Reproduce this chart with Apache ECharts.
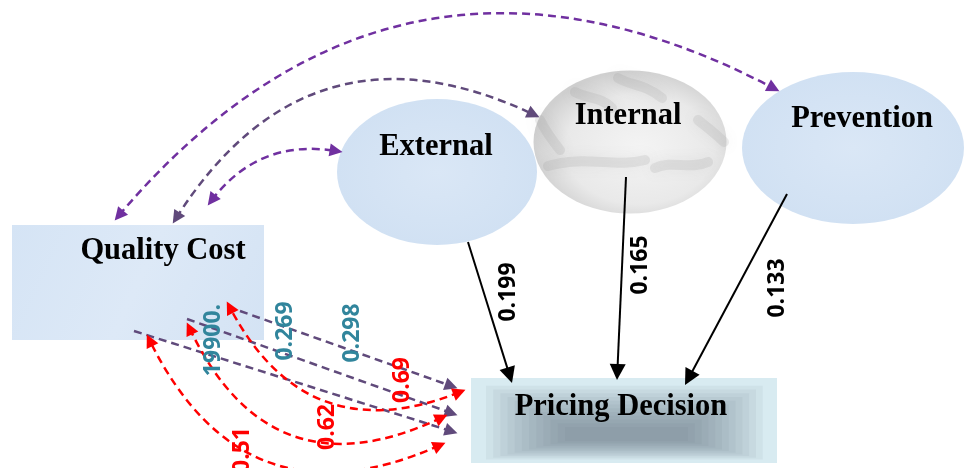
<!DOCTYPE html>
<html><head><meta charset="utf-8">
<script src="https://cdn.jsdelivr.net/npm/echarts@6/dist/echarts.min.js"></script>
<style>html,body{margin:0;padding:0;background:#fff}#c{width:969px;height:468px}</style>
</head><body><div id="c"></div>
<script>
// ---------- data ----------
const nodeNames = ['Quality Cost', 'External', 'Internal', 'Prevention', 'Pricing Decision'];
const pathSources = ['External', 'Internal', 'Prevention'];
const pathCoefficients = [0.199, 0.165, 0.133];
const costArcTargets = ['Prevention', 'Internal', 'External'];
const crossLabels = ['19900.', '0.269', '0.298'];
const correlations = [0.69, 0.62, 0.51];

// ---------- layout (canvas space 969 x 468) ----------
const nodeLayout = {
  'Quality Cost':     {kind: 'rect',    cx: 138, cy: 282.5, w: 252, h: 115, tx: 163, ty: 251, fill: 'qc'},
  'External':         {kind: 'ellipse', cx: 437, cy: 172, w: 200, h: 146, tx: 436, ty: 147, fill: 'blue'},
  'Internal':         {kind: 'ellipse', cx: 630, cy: 142, w: 193, h: 143, tx: 628, ty: 116, fill: 'marble'},
  'Prevention':       {kind: 'ellipse', cx: 853, cy: 148, w: 222, h: 152, tx: 862, ty: 119, fill: 'blue'},
  'Pricing Decision': {kind: 'rect',    cx: 624, cy: 420.5, w: 306, h: 85, tx: 621, ty: 407, fill: 'shade'}
};
const shadeCore = {x0: 565, x1: 688, y0: 427, y1: 441};
const marbleVeins = [
  [[548, 166], [585, 155], [615, 168], [645, 160]],
  [[618, 78], [632, 86], [645, 84], [662, 98]],
  [[698, 120], [708, 128], [716, 134], [724, 142]],
  [[540, 120], [546, 132], [552, 140], [560, 150]],
  [[655, 168], [672, 160], [690, 170], [708, 162]],
  [[575, 92], [590, 100], [600, 96], [612, 108]]
];
const pathLayout = [[[468, 242], [512, 383]], [[626, 177], [617, 380]], [[787, 194], [685, 385]]];
const pathLabelPos = [[508, 292], [640, 265], [777, 288]];
const arcLayout = [
  {from: [115, 220], to: [779, 91], c: 0.40, tone: 'violet'},
  {from: [173, 223], to: [539, 117], c: 0.44, tone: 'dark'},
  {from: [208, 205], to: [342, 152], c: 0.30, tone: 'violet'}
];
const crossLayout = [[[134, 331], [457, 433]], [[187, 319], [457, 415]], [[240, 311], [457, 388]]];
const crossLabelPos = [[213, 340], [285, 331], [352, 333]];
const corrLayout = [
  {a: [227, 302], b: [465, 390], c: 0.45},
  {a: [187, 323], b: [447, 415], c: 0.50},
  {a: [147, 335], b: [445, 443], c: 0.48}
];
const corrLabelPos = [[402, 380], [327, 427], [242, 450]];

// ---------- helpers ----------
function ctrl(p1, p2, c) {
  return [(p1[0] + p2[0]) / 2 - (p1[1] - p2[1]) * c, (p1[1] + p2[1]) / 2 - (p2[0] - p1[0]) * c];
}
function pull(p, q, d) {
  const dx = q[0] - p[0], dy = q[1] - p[1], L = Math.hypot(dx, dy);
  return [p[0] + dx / L * d, p[1] + dy / L * d];
}
function edge(p1, p2, c, d1, d2, extra) {
  const cp = c ? ctrl(p1, p2, c) : null;
  const a = d1 ? pull(p1, cp || p2, d1) : p1;
  const b = d2 ? pull(p2, cp || p1, d2) : p2;
  return Object.assign({coords: [a, b], lineStyle: {curveness: c || 0}}, extra || {});
}

const fills = {
  qc: {type: 'linear', x: 0, y: 0, x2: 1, y2: 1, colorStops: [
    {offset: 0, color: '#d5e4f5'}, {offset: 0.5, color: '#dde9f7'}, {offset: 1, color: '#d4e3f4'}]},
  blue: {type: 'radial', x: 0.5, y: 0.5, r: 0.5, colorStops: [
    {offset: 0, color: '#dae7f6'}, {offset: 1, color: '#d1e1f3'}]},
  marble: {type: 'radial', x: 0.55, y: 0.55, r: 0.55, colorStops: [
    {offset: 0, color: '#f4f4f4'}, {offset: 0.7, color: '#e9e9e9'}, {offset: 1, color: '#d0d0d0'}]}
};

const nodeData = nodeNames.map(n => ({name: n, value: [nodeLayout[n].cx, nodeLayout[n].cy]}));

function renderNode(params, api) {
  const name = nodeNames[params.dataIndex];
  const L = nodeLayout[name];
  const c = api.coord([L.cx, L.cy]);
  const s = api.size([L.w, L.h]);
  const t = api.coord([L.tx, L.ty]);
  const children = [];
  if (L.kind === 'rect') {
    const x0 = c[0] - s[0] / 2, y0 = c[1] - s[1] / 2, x1 = x0 + s[0], y1 = y0 + s[1];
    children.push({type: 'rect', shape: {x: x0, y: y0, width: s[0], height: s[1]},
      style: {fill: L.fill === 'shade' ? '#d8ebf1' : fills.qc}});
    if (L.fill === 'shade') {
      const a = api.coord([shadeCore.x0, shadeCore.y0]), b = api.coord([shadeCore.x1, shadeCore.y1]);
      const N = 12;
      for (let k = 0; k < N; k++) {
        const f = 0.16 + 0.84 * k / (N - 1);
        const rx0 = x0 + (a[0] - x0) * f, rx1 = x1 + (b[0] - x1) * f;
        const ry0 = y0 + (a[1] - y0) * f, ry1 = y1 + (b[1] - y1) * f;
        children.push({type: 'rect', shape: {x: rx0, y: ry0, width: rx1 - rx0, height: ry1 - ry0},
          style: {fill: 'rgba(92,108,115,0.068)'}});
      }
    }
  } else {
    children.push({type: 'circle', x: c[0], y: c[1], scaleX: 1, scaleY: s[1] / s[0],
      shape: {cx: 0, cy: 0, r: s[0] / 2}, style: {fill: fills[L.fill]}});
    if (L.fill === 'marble') {
      marbleVeins.forEach(v => {
        const p = v.map(q => api.coord(q));
        children.push({type: 'bezierCurve', shape: {x1: p[0][0], y1: p[0][1], cpx1: p[1][0], cpy1: p[1][1],
          cpx2: p[2][0], cpy2: p[2][1], x2: p[3][0], y2: p[3][1]},
          style: {stroke: 'rgba(140,140,140,0.16)', lineWidth: 10, fill: null, lineCap: 'round',
            shadowBlur: 14, shadowColor: 'rgba(120,120,120,0.5)'}});
      });
    }
  }
  children.push({type: 'text', x: t[0], y: t[1], style: {text: name, fill: '#000',
    font: 'bold 30.5px "Liberation Serif", "Times New Roman", serif', align: 'center', verticalAlign: 'middle'}});
  return {type: 'group', children};
}

const labelItems = [];
pathCoefficients.forEach((v, i) => labelItems.push({value: pathLabelPos[i], text: v.toFixed(3), color: '#000000'}));
crossLabels.forEach((v, i) => labelItems.push({value: crossLabelPos[i], text: v, color: '#31859c'}));
correlations.forEach((v, i) => labelItems.push({value: corrLabelPos[i], text: v.toFixed(2), color: '#ff0000'}));

function renderLabel(params, api) {
  const it = labelItems[params.dataIndex];
  const p = api.coord(it.value);
  return {type: 'text', x: p[0], y: p[1], rotation: Math.PI / 2,
    style: {text: it.text, fill: it.color, font: 'bold 23px "Open Sans", sans-serif', align: 'center', verticalAlign: 'middle'}};
}

const dash = [8, 5];
const arrowS = [13, 13];

const option = {
  animation: false,
  backgroundColor: '#ffffff',
  grid: {left: 0, right: 0, top: 0, bottom: 0},
  xAxis: {type: 'value', min: 0, max: 969, show: false},
  yAxis: {type: 'value', min: 0, max: 468, inverse: true, show: false},
  series: [
    {type: 'custom', name: 'nodes', coordinateSystem: 'cartesian2d', renderItem: renderNode, data: nodeData, z: 1, silent: true},
    {type: 'lines', name: 'paths', coordinateSystem: 'cartesian2d', z: 3,
      symbol: ['none', 'triangle'], symbolSize: [12, 16],
      lineStyle: {color: '#000000', width: 2, type: 'solid', opacity: 1},
      data: pathSources.map((n, i) => edge(pathLayout[i][0], pathLayout[i][1], 0, 0, 8, {name: n}))},
    {type: 'lines', name: 'arcsViolet', coordinateSystem: 'cartesian2d', z: 3,
      symbol: ['triangle', 'triangle'], symbolSize: arrowS,
      lineStyle: {color: '#7030a0', width: 2.5, type: dash, opacity: 1},
      data: costArcTargets.map((n, i) => ({n, L: arcLayout[i]})).filter(o => o.L.tone === 'violet')
        .map(o => edge(o.L.from, o.L.to, o.L.c, 6, 6, {name: o.n}))},
    {type: 'lines', name: 'arcsDark', coordinateSystem: 'cartesian2d', z: 3,
      symbol: ['triangle', 'triangle'], symbolSize: arrowS,
      lineStyle: {color: '#604a7b', width: 2.5, type: dash, opacity: 1},
      data: costArcTargets.map((n, i) => ({n, L: arcLayout[i]})).filter(o => o.L.tone === 'dark')
        .map(o => edge(o.L.from, o.L.to, o.L.c, 6, 6, {name: o.n}))},
    {type: 'lines', name: 'cross', coordinateSystem: 'cartesian2d', z: 3,
      symbol: ['none', 'triangle'], symbolSize: arrowS,
      lineStyle: {color: '#604a7b', width: 2.5, type: dash, opacity: 1},
      data: crossLabels.map((n, i) => edge(crossLayout[i][0], crossLayout[i][1], 0, 0, 6, {name: n}))},
    {type: 'lines', name: 'correlations', coordinateSystem: 'cartesian2d', z: 4,
      symbol: ['triangle', 'triangle'], symbolSize: arrowS,
      lineStyle: {color: '#ff0000', width: 2.5, type: dash, opacity: 1},
      data: correlations.map((v, i) => edge(corrLayout[i].b, corrLayout[i].a, corrLayout[i].c, 6, 6, {name: String(v)}))},
    {type: 'custom', name: 'labels', coordinateSystem: 'cartesian2d', renderItem: renderLabel,
      data: labelItems.map(o => o.value), z: 5, silent: true}
  ]
};
const chart = echarts.init(document.getElementById('c'), null, {renderer: 'canvas'});
chart.setOption(option);
</script>
</body></html>
